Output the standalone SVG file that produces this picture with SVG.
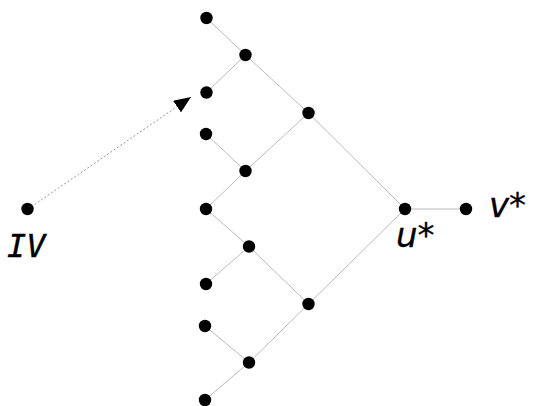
<svg xmlns="http://www.w3.org/2000/svg" width="533" height="406" viewBox="0 0 533 406">
<style>
.e{stroke:#bbbbbb;stroke-width:1;fill:none}
.n{fill:#000}
.t{font-family:"DejaVu Sans",sans-serif;font-style:oblique;font-size:34px;fill:#000;stroke:#000;stroke-width:0.3}
.m{font-family:"DejaVu Sans Mono",monospace;font-style:oblique;font-size:32px;fill:#000;stroke:#000;stroke-width:0.4}
</style>
<defs>
<marker id="ah" viewBox="0 0 17 14" refX="17" refY="7" markerWidth="17" markerHeight="14" markerUnits="userSpaceOnUse" orient="auto">
<path d="M0,0 L17,7 L0,14 Z" fill="#000"/>
</marker>
</defs>
<rect width="533" height="406" fill="#fff"/>
<g id="connectors">
<line class="e" x1="206.5" y1="18" x2="245.5" y2="55"/>
<line class="e" x1="245.5" y1="55" x2="206.5" y2="92.5"/>
<line class="e" x1="245.5" y1="55" x2="308.5" y2="113"/>
<line class="e" x1="206" y1="134" x2="245.5" y2="171"/>
<line class="e" x1="245.5" y1="171" x2="206" y2="209"/>
<line class="e" x1="245.5" y1="171" x2="308.5" y2="113"/>
<line class="e" x1="206" y1="209" x2="249" y2="246.5"/>
<line class="e" x1="249" y1="246.5" x2="206" y2="284"/>
<line class="e" x1="249" y1="246.5" x2="308.5" y2="304"/>
<line class="e" x1="205" y1="326" x2="249" y2="362.5"/>
<line class="e" x1="249" y1="362.5" x2="205" y2="400"/>
<line class="e" x1="249" y1="362.5" x2="308.5" y2="304"/>
<line class="e" x1="308.5" y1="113" x2="405" y2="209"/>
<line class="e" x1="308.5" y1="304" x2="405" y2="209"/>
<line class="e" x1="405" y1="209" x2="466" y2="209"/>
<line x1="28" y1="209" x2="191" y2="97" stroke="#999" stroke-width="1" stroke-dasharray="2,2" marker-end="url(#ah)"/>
</g>
<g id="n1"><circle class="n" cx="206.5" cy="18" r="6.2"/></g>
<g id="n2"><circle class="n" cx="245.5" cy="55" r="6.2"/></g>
<g id="n3"><circle class="n" cx="206.5" cy="92.5" r="6.2"/></g>
<g id="n4"><circle class="n" cx="206" cy="134" r="6.2"/></g>
<g id="n5"><circle class="n" cx="245.5" cy="171" r="6.2"/></g>
<g id="n6"><circle class="n" cx="206" cy="209" r="6.2"/></g>
<g id="n7"><circle class="n" cx="249" cy="246.5" r="6.2"/></g>
<g id="n8"><circle class="n" cx="206" cy="284" r="6.2"/></g>
<g id="n9"><circle class="n" cx="205" cy="326" r="6.2"/></g>
<g id="n10"><circle class="n" cx="249" cy="362.5" r="6.2"/></g>
<g id="n11"><circle class="n" cx="205" cy="400" r="6.2"/></g>
<g id="n12"><circle class="n" cx="308.5" cy="113" r="6.2"/></g>
<g id="n13"><circle class="n" cx="308.5" cy="304" r="6.2"/></g>
<g id="u"><circle class="n" cx="405" cy="209" r="6.2"/><text class="t" x="396" y="247">u*</text></g>
<g id="v"><circle class="n" cx="466" cy="209" r="6.2"/><text class="t" x="489" y="217">v*</text></g>
<g id="iv"><circle class="n" cx="27.5" cy="209" r="6.2"/><text class="m" x="7" y="257">IV</text></g>
</svg>
